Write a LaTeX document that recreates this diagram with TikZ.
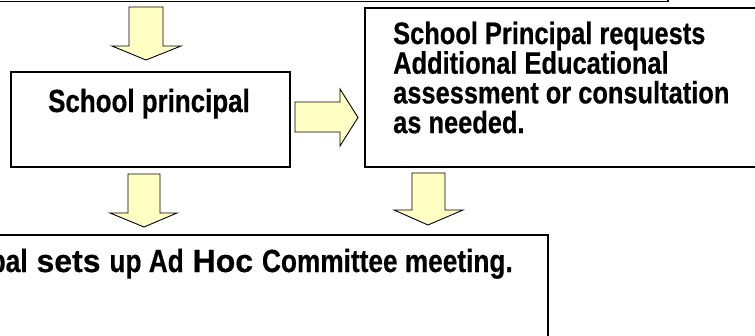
\documentclass[tikz,border=0pt]{standalone}
\usepackage{fontspec}
\usepackage{graphicx}
\setmainfont{Liberation Sans}
% heavy bold face; condensed with a horizontal squeeze
\newfontfamily\heavyface[FakeBold=0.5]{Liberation Sans Bold}
\newcommand{\narrowtxt}[2][0.82]{\scalebox{#1}[1]{#2}}
\begin{document}
\begin{tikzpicture}[x=1pt,y=-1pt,
  box/.style={draw=black,line width=1.6pt,fill=white,inner sep=0pt,anchor=north west},
  blk/.style={draw=black,line width=0.9pt,fill=arrowfill,line join=miter},
  lbl/.style={inner sep=0pt,font=\heavyface\fontsize{31}{34}\selectfont}]
\definecolor{arrowfill}{RGB}{255,255,196}
\useasboundingbox (0,0) rectangle (755,335);
\clip (0,0) rectangle (755,335);
\fill[white] (0,0) rectangle (755,335);

% boxes
\draw[line width=1.6pt] (-20,-20) rectangle (668,1.5);
\node[box,minimum width=279pt,minimum height=95pt] (principal) at (10,71) {};
\node[box,minimum width=420pt,minimum height=159pt] (request) at (364,7) {};
\node[box,minimum width=577pt,minimum height=150pt] (adhoc) at (-30,234) {};

% labels
\node[lbl,font=\heavyface\fontsize{32}{34}\selectfont,anchor=base] (tprincipal) at (149,112) {\narrowtxt[0.81]{School principal}};
\node[lbl,anchor=base west] (r1) at (393,44) {\narrowtxt{School Principal requests}};
\node[lbl,anchor=base west] (r2) at (393,73.7) {\narrowtxt{Additional Educational}};
\node[lbl,anchor=base west] (r3) at (393,103.4) {\narrowtxt{assessment or consultation}};
\node[lbl,anchor=base west] (r4) at (393,133.1) {\narrowtxt{as needed.}};
\node[lbl,font=\heavyface\fontsize{32}{34}\selectfont,anchor=base east] (tadhoc) at (513,272)
  {\narrowtxt{School Principal} sets \narrowtxt{up Ad} Hoc \narrowtxt{Committee meeting.}};

% block arrows
\draw[blk] (129,7) -- (163,7) -- (163,46) -- (181,46) -- (146,60) -- (112,46) -- (129,46) -- cycle;
\draw[blk] (295,102) -- (340,102) -- (340,89) -- (358,117.5) -- (340,146) -- (340,132) -- (295,132) -- cycle;
\draw[blk] (128,174) -- (160,174) -- (160,213) -- (177,213) -- (144,227) -- (110,213) -- (128,213) -- cycle;
\draw[blk] (412,173) -- (445,173) -- (445,210) -- (463,210) -- (428,225) -- (394,210) -- (412,210) -- cycle;
\end{tikzpicture}
\end{document}
